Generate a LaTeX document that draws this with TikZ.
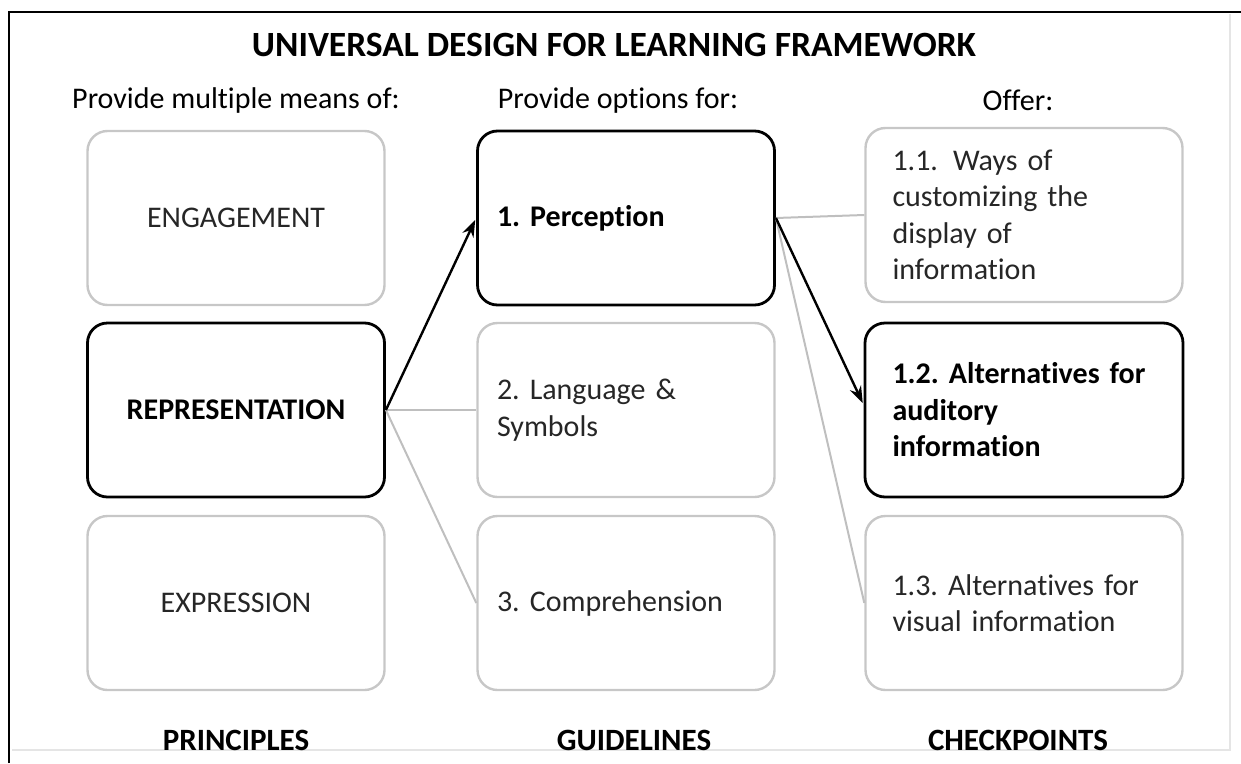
\documentclass[tikz,border=0pt]{standalone}
\usepackage{fontspec}
\setmainfont{Carlito}[Ligatures=NoCommon]
\usetikzlibrary{positioning,arrows.meta}
\frenchspacing

\begin{document}
\begin{tikzpicture}[x=1pt,y=-1pt,on grid,
    font=\fontsize{30}{36.5}\selectfont,
    box/.style={rounded corners=20pt,minimum width=297pt,minimum height=174pt},
    dim/.style={box,draw=black!22,line width=2.4pt,text=black!85},
    hot/.style={box,draw=black,line width=2.8pt,font=\fontsize{30}{36.5}\selectfont\bfseries},
    note/.style={text width=#1,align=left},
    head/.style={font=\fontsize{31}{36}\selectfont\bfseries},
    link/.style={draw=black!25,line width=2pt},
    arr/.style={draw=black,line width=2.4pt,-{Stealth[length=17pt,width=12pt]},shorten >=2pt}]
  \useasboundingbox (0,0) rectangle (1241,763);
  % frame
  \draw[black!10,line width=2pt] (1230,14) -- (1230,750) -- (12,750);
  \draw[line width=2pt] (9,763) -- (9,12) -- (1241,12);

  \node[head,font=\fontsize{35.5}{42}\selectfont\bfseries] (title) at (614,45) {UNIVERSAL DESIGN FOR LEARNING FRAMEWORK};

  % principles
  \node[dim] (engage) at (236,218) {ENGAGEMENT};
  \node[hot] (repr) [below=192pt of engage] {REPRESENTATION};
  \node[dim] (expr) [below=193pt of repr] {EXPRESSION};

  % guidelines
  \node[hot,note=258pt] (perc) [right=390pt of engage] {1. Perception};
  \node[dim,note=258pt] (lang) [right=390pt of repr] {2. Language \&\\Symbols};
  \node[dim,note=258pt] (compr) [right=390pt of expr] {3. Comprehension};

  % checkpoints
  \node[dim,note=263pt,minimum width=317pt] (c11) [right=398pt of perc,yshift=3pt] {1.1.\, Ways of\\customizing the\\display of\\information};
  \node[hot,note=263pt,minimum width=318pt] (c12) [right=398pt of lang] {1.2. Alternatives for\\auditory\\information};
  \node[dim,note=263pt,minimum width=317pt] (c13) [right=398pt of compr] {1.3. Alternatives for\\visual information};

  % column heads
  \node (hdr1) [above=118pt of engage] {Provide multiple means of:};
  \node (hdr2) [above=118pt of perc,xshift=-8pt] {Provide options for:};
  \node (hdr3) [above=118pt of c11,xshift=-6pt,yshift=-3pt] {Offer:};
  \node[head] (lbl1) [below=137pt of expr] {PRINCIPLES};
  \node[head] (lbl2) [below=137pt of compr,xshift=8pt] {GUIDELINES};
  \node[head] (lbl3) [below=137pt of c13,xshift=-6pt] {CHECKPOINTS};

  \path
    (repr.east)
    edge[link] (lang.west)
    edge[link] (compr.west)
    (perc.east)
    edge[link] (c11.west)
    edge[link] (c13.west)
    ;
  \path
    (repr.east) edge[arr] (perc.west)
    (perc.east) edge[arr] ([yshift=5pt]c12.west)
    ;
\end{tikzpicture}
\end{document}
